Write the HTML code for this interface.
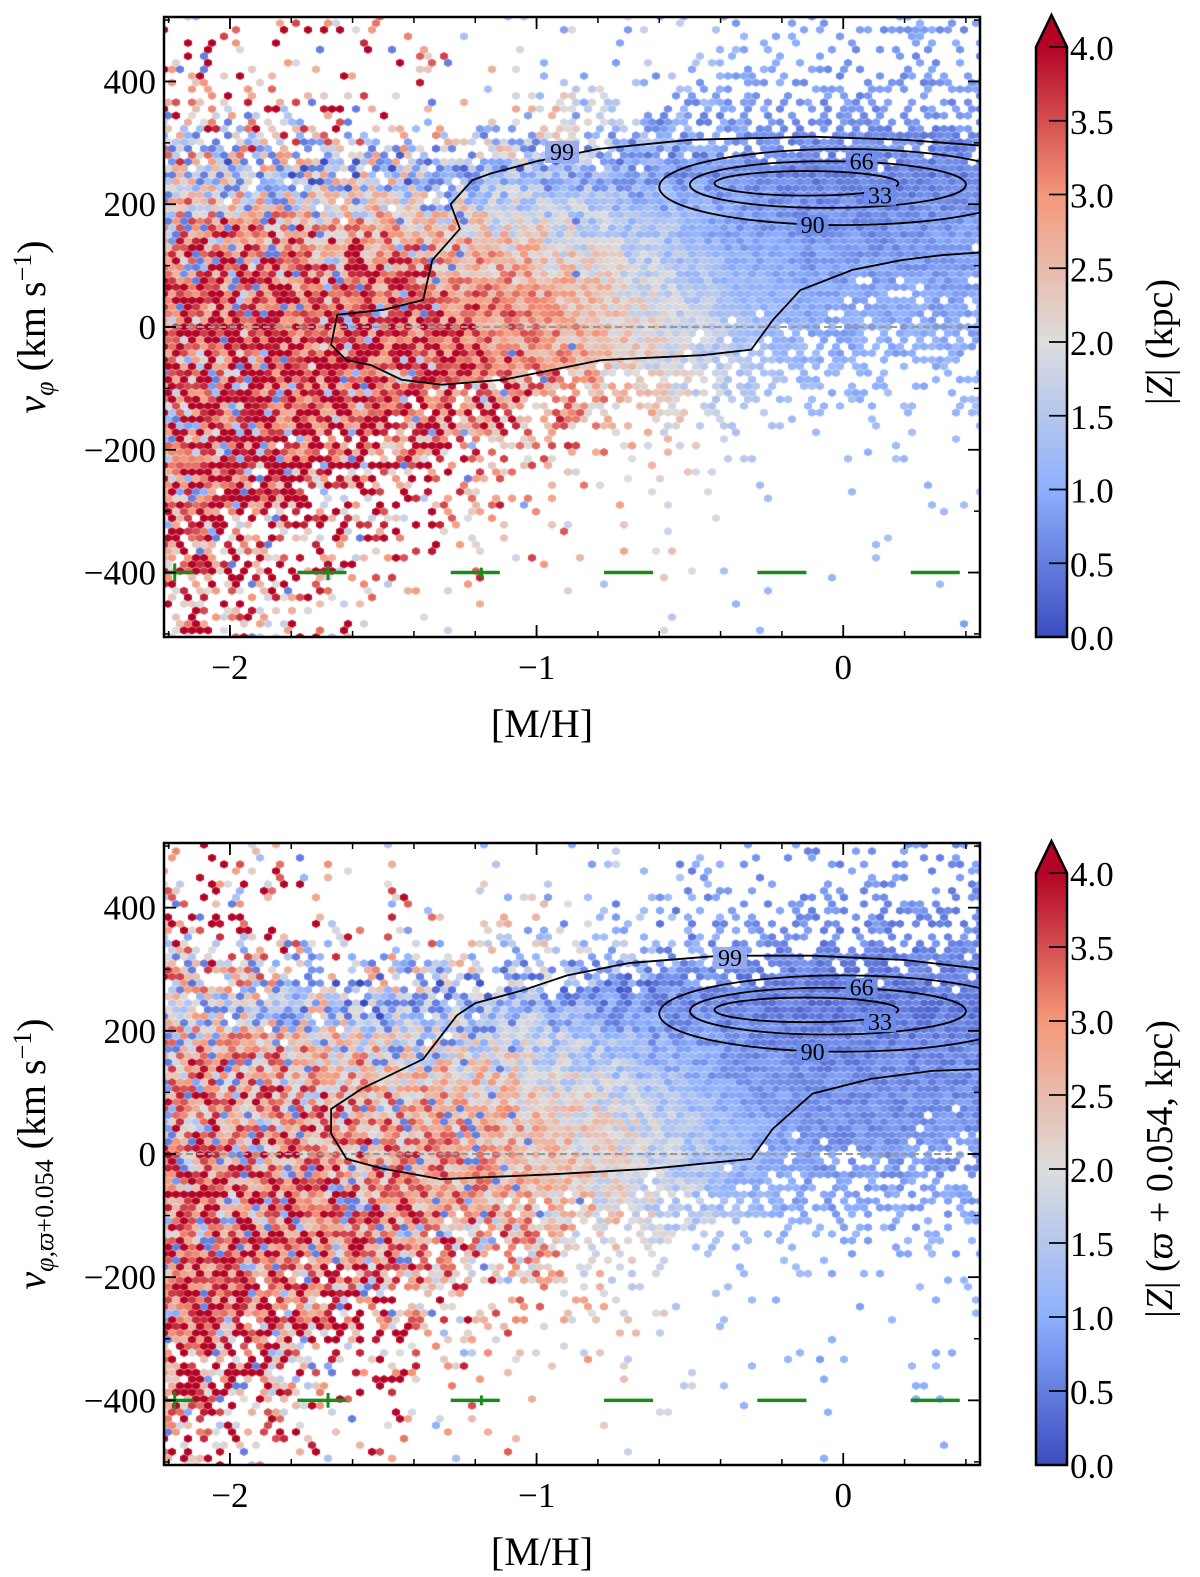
<!DOCTYPE html>
<html><head><meta charset="utf-8">
<style>
body{margin:0;background:#fff;width:1200px;height:1577px;position:relative;overflow:hidden}
canvas,svg{position:absolute;left:0;top:0}
text{font-family:"Liberation Serif",serif;fill:#000}
</style></head><body>
<canvas id="cv" width="1200" height="1577"></canvas>
<svg id="sv" width="1200" height="1577"></svg>
<script>
// ---- data ----
const xBins = [-2.075,-1.825,-1.575,-1.325,-1.075,-0.825,-0.575,-0.325,-0.075,0.175,0.375];
const yBins = [450,350,250,150,50,-50,-150,-250,-350,-450];
const densityTop = [
[.25,.12,.1,.06,.05,.05,.08,.15,.2,.25,.25],
[.45,.3,.2,.15,.2,.3,.45,.55,.55,.55,.5],
[.95,.9,.85,.9,.95,1,1,1,1,1,1],
[1,1,1,1,1,1,1,1,1,1,1],
[1,1,1,1,1,1,1,1,1,.9,.7],
[1,1,1,1,1,1,.9,.8,.6,.5,.4],
[1,1,1,.9,.7,.5,.3,.2,.15,.15,.15],
[1,.9,.7,.4,.25,.15,.06,.05,.05,.05,.05],
[.8,.5,.3,.15,.08,.04,.03,.03,.03,.03,.03],
[.5,.25,.15,.06,.03,.02,.02,.02,.02,.02,.02]];
const zTop = [
[3.3,3.3,3,2.5,2,1.5,1.2,1,.8,.8,.8],
[3.2,3,2.8,2.5,2,1.5,1,.8,.7,.7,.7],
[1.6,1.3,1.2,1.2,1.1,1,.8,.6,.5,.5,.5],
[3.3,3.2,3,2.6,2.2,1.8,1.3,.9,.7,.7,.8],
[3.8,3.6,3.5,3.3,3,2.5,1.8,1.2,.9,.9,.9],
[3.8,3.8,3.8,3.6,3.2,2.6,2,1.4,1,1,1],
[3.8,3.8,3.8,3.5,3.2,2.8,2.2,1.5,1.2,1.2,1.2],
[3.8,3.8,3.5,3.2,3,2.6,2.2,1.5,1.2,1.2,1.2],
[3.8,3.5,3.3,3,2.8,2.5,2,1.5,1.2,1.2,1.2],
[3.6,3.3,3,2.8,2.5,2,1.8,1.3,1,1,1]];
const densityBot = [
[.25,.12,.1,.06,.05,.05,.08,.15,.2,.25,.25],
[.45,.3,.2,.15,.2,.3,.45,.55,.55,.55,.5],
[.95,.9,.85,.9,.95,1,1,1,1,1,1],
[1,1,1,1,1,1,1,1,1,1,1],
[1,1,1,1,1,1,1,1,1,1,.85],
[1,1,1,1,1,1,.95,.85,.7,.6,.5],
[1,1,1,.9,.7,.5,.3,.2,.15,.15,.15],
[1,.9,.7,.4,.25,.15,.06,.05,.05,.05,.05],
[.8,.5,.3,.15,.08,.04,.03,.03,.03,.03,.03],
[.5,.25,.15,.06,.03,.02,.02,.02,.02,.02,.02]];
const zBot = [
[3.3,3.3,2.8,2.3,1.8,1.3,1,.8,.7,.7,.7],
[3.1,2.8,2.5,2.2,1.8,1.3,.9,.7,.6,.6,.6],
[1.5,1.2,1.1,1.1,1,.8,.6,.5,.4,.4,.4],
[3,2.8,2.6,2.3,2,1.6,1.1,.7,.6,.6,.6],
[3.2,3,2.9,2.8,2.6,2.2,1.6,1,.7,.7,.7],
[3.4,3.3,3.1,2.9,2.6,2.2,1.7,1.1,.8,.8,.8],
[3.6,3.5,3.3,3,2.7,2.3,1.8,1.2,1,1,1],
[3.7,3.6,3.3,3,2.7,2.3,1.8,1.3,1,1,1],
[3.7,3.4,3.2,2.9,2.6,2.3,1.8,1.3,1,1,1],
[3.5,3.2,3,2.7,2.4,2,1.6,1.2,.9,.9,.9]];
const c99TopX = [0.46,0.2,-0.1,-0.5,-0.8,-1.0,-1.15,-1.21,-1.28,-1.25,-1.34,-1.37,-1.5,-1.65,-1.67,-1.62,-1.54,-1.44,-1.31,-1.11,-0.79,-0.46,-0.3,-0.23,-0.14,0.03,0.19,0.32,0.46];
const c99TopV = [295,305,310,305,290,270,250,239,200,160,109,44,28,20,-29,-54,-62,-86,-94,-86,-54,-46,-37,11,60,93,109,117,122];
const c99BotX = [0.46,0.2,-0.1,-0.4,-0.7,-0.9,-1.05,-1.2,-1.26,-1.37,-1.57,-1.67,-1.67,-1.62,-1.5,-1.31,-0.95,-0.63,-0.3,-0.23,-0.1,0.09,0.29,0.46];
const c99BotV = [300,315,322,322,310,290,265,245,225,154,106,73,33,-8,-24,-41,-33,-24,-8,41,98,122,135,138];
const ellLevels = ["90","66","33"];
const ellCx = [0.0,-0.05,-0.12];
const ellCv = [228,232,234];
const ellRx = [0.6,0.45,0.3];
const ellRv = [62,38,20];
const errX = [-2.2,-1.7,-1.2,-0.7,-0.2,0.3];
const errXerr = [0.08,0.08,0.08,0.08,0.08,0.08];
const errVerr = [15,12,8,0,0,0];
const xTicks = [-2,-1,0];
const yTicks = [-400,-200,0,200,400];
const cbTicks = [0,0.5,1,1.5,2,2.5,3,3.5,4];

// ---- layout ----
const panels = [
 {L:164,R:980,T:17,B:637,dens:densityTop,z:zTop,cx:c99TopX,cv:c99TopV,cbT:47,lbl99:[562,152]},
 {L:164,R:980,T:843,B:1465,dens:densityBot,z:zBot,cx:c99BotX,cv:c99BotV,cbT:873,lbl99:[730,958]}
];
const XMIN=-2.215, XMAX=0.446, VMIN=-505, VMAX=505;
const cmap=[[0,59,76,192],[.25,141,176,254],[.5,221,221,221],[.75,245,152,122],[1,180,4,38]];
function col(t){t=Math.max(0,Math.min(1,t));for(let i=1;i<cmap.length;i++){if(t<=cmap[i][0]){const a=cmap[i-1],b=cmap[i],f=(t-a[0])/(b[0]-a[0]);return `rgb(${Math.round(a[1]+f*(b[1]-a[1]))},${Math.round(a[2]+f*(b[2]-a[2]))},${Math.round(a[3]+f*(b[3]-a[3]))})`;}}}
function hash(i,j,k){let h=(i*374761393+j*668265263+k*2147483647)|0;h=(h^(h>>>13))*1274126177|0;h=h^(h>>>16);return ((h>>>0)%100000)/100000;}
function interp(grid,x,v){
 let fx=(x-xBins[0])/0.25; if(x>0.3) fx=9+(x-0.175)/0.2;
 fx=Math.max(0,Math.min(xBins.length-1.001,fx));
 let fy=(450-v)/100; fy=Math.max(0,Math.min(yBins.length-1.001,fy));
 const i=Math.floor(fx),j=Math.floor(fy),a=fx-i,b=fy-j;
 return grid[j][i]*(1-a)*(1-b)+grid[j][i+1]*a*(1-b)+grid[j+1][i]*(1-a)*b+grid[j+1][i+1]*a*b;
}
const cv=document.getElementById('cv').getContext('2d');
const NS='http://www.w3.org/2000/svg';
const sv=document.getElementById('sv');
function el(tag,attrs,parent,txt){const e=document.createElementNS(NS,tag);for(const k in attrs)e.setAttribute(k,attrs[k]);if(txt!==undefined)e.textContent=txt;(parent||sv).appendChild(e);return e;}

panels.forEach((p,pi)=>{
 const sx=x=>p.L+(x-XMIN)/(XMAX-XMIN)*(p.R-p.L);
 const sy=v=>p.B-(v-VMIN)/(VMAX-VMIN)*(p.B-p.T);
 cv.save();cv.beginPath();cv.rect(p.L,p.T,p.R-p.L,p.B-p.T);cv.clip();
 const dx=8,dy=6.6,r=4.8;
 let row=0;
 for(let py=p.B;py>p.T-dy;py-=dy,row++){
  const off=(row%2)*dx/2;
  let colI=0;
  for(let px=p.L+off;px<p.R+dx;px+=dx,colI++){
   const x=XMIN+(px-p.L)/(p.R-p.L)*(XMAX-XMIN);
   const v=VMIN+(p.B-py)/(p.B-p.T)*(VMAX-VMIN);
   const d=interp(p.dens,x,v);
   if(d<0.97 && hash(row,colI,pi*7+1)>d) continue;
   let z=interp(p.z,x,v);
   const amp=0.22+1.6*Math.max(0,Math.min(1,(-x-0.3)/1.4))*(d>0.9?0.6:1);
   z+= (hash(row,colI,pi*7+3)-0.5)*amp*2;
   if(hash(row,colI,pi*7+5)<0.12*Math.max(0,(-x-0.8))) z=Math.max(0.5,z-2.5);
   cv.fillStyle=col(z/4);
   cv.beginPath();
   for(let k=0;k<6;k++){const an=Math.PI/6+k*Math.PI/3;const hx=px+r*Math.cos(an)*0.95,hy=py+r*Math.sin(an)*0.85;k?cv.lineTo(hx,hy):cv.moveTo(hx,hy);}
   cv.closePath();cv.fill();
  }
 }
 cv.restore();
 const g=el('g',{},sv);
 
 
 const clip=el('clipPath',{id:'clp'+pi},g);el('rect',{x:p.L,y:p.T,width:p.R-p.L,height:p.B-p.T},clip);
 const cg=el('g',{'clip-path':`url(#clp${pi})`},g);
 const zl=el('line',{x1:p.L,x2:p.R,y1:sy(0),y2:sy(0),stroke:'#999','stroke-width':2,'stroke-dasharray':'7,4'},cg);
 
 let d='';p.cx.forEach((x,i)=>{d+=(i?'L':'M')+sx(x).toFixed(1)+','+sy(p.cv[i]).toFixed(1);});
 const c99=el('path',{d:d,fill:'none',stroke:'#000','stroke-width':1.8},cg);
 
 ellLevels.forEach((lv,i)=>{
  const e=el('ellipse',{cx:sx(ellCx[i]),cy:sy(ellCv[i]),rx:ellRx[i]*(p.R-p.L)/(XMAX-XMIN),ry:ellRv[i]*(p.B-p.T)/(VMAX-VMIN),fill:'none',stroke:'#000','stroke-width':1.8},cg);
  
 });
 const lx=[sx(-0.1),sx(0.06),sx(0.12)],ly=[sy(ellCv[0]-ellRv[0]),sy(ellCv[1]+ellRv[1]),sy(ellCv[2]-ellRv[2])];
 ellLevels.forEach((lv,i)=>{
  el('rect',{x:lx[i]-16,y:ly[i]-10,width:32,height:20,fill:'rgba(110,140,235,0.95)'},cg);
  const t=el('text',{x:lx[i],y:ly[i]+8,'font-size':24,'text-anchor':'middle'},cg,lv);
  
 });
 el('rect',{x:p.lbl99[0]-17,y:p.lbl99[1]-11,width:34,height:22,fill:'rgba(150,170,240,0.95)'},cg);
 const t99=el('text',{x:p.lbl99[0],y:p.lbl99[1]+8,'font-size':24,'text-anchor':'middle'},cg,'99');
 
 errX.forEach((x,i)=>{
  const eg=el('g',{stroke:'#1a8a1a','stroke-width':3.5},cg);
  
  el('line',{x1:sx(x-errXerr[i]),x2:sx(x+errXerr[i]),y1:sy(-400),y2:sy(-400)},eg);
  if(errVerr[i]>0) el('line',{x1:sx(x+0.02),x2:sx(x+0.02),y1:sy(-400-errVerr[i]),y2:sy(-400+errVerr[i]),'stroke-width':3},eg);
 });
 const fr=el('rect',{x:p.L,y:p.T,width:p.R-p.L,height:p.B-p.T,fill:'none',stroke:'#000','stroke-width':2.5},g);
 
 for(let x=-2.2;x<=0.45;x+=0.2){const X=sx(x);el('line',{x1:X,x2:X,y1:p.B,y2:p.B-6,stroke:'#000','stroke-width':1.5},g);el('line',{x1:X,x2:X,y1:p.T,y2:p.T+6,stroke:'#000','stroke-width':1.5},g);}
 xTicks.forEach(x=>{const X=sx(x);el('line',{x1:X,x2:X,y1:p.B,y2:p.B-12,stroke:'#000','stroke-width':1.8},g);el('line',{x1:X,x2:X,y1:p.T,y2:p.T+12,stroke:'#000','stroke-width':1.8},g);
  const t=el('text',{x:X,y:p.B+42,'font-size':35,'text-anchor':'middle'},g,(x<0?'\u2212':'')+Math.abs(x));
  });
 for(let v=-500;v<=500;v+=100){const Y=sy(v);el('line',{x1:p.L,x2:p.L+6,y1:Y,y2:Y,stroke:'#000','stroke-width':1.5},g);el('line',{x1:p.R,x2:p.R-6,y1:Y,y2:Y,stroke:'#000','stroke-width':1.5},g);}
 yTicks.forEach(v=>{const Y=sy(v);el('line',{x1:p.L,x2:p.L+12,y1:Y,y2:Y,stroke:'#000','stroke-width':1.8},g);el('line',{x1:p.R,x2:p.R-12,y1:Y,y2:Y,stroke:'#000','stroke-width':1.8},g);
  const t=el('text',{x:p.L-8,y:Y+12,'font-size':35,'text-anchor':'end'},g,(v<0?'\u2212':'')+Math.abs(v));
  });
 const xl=el('text',{x:(p.L+p.R)/2-30,y:p.B+100,'font-size':40,'text-anchor':'middle'},g,'[M/H]');
 
 const yc=(p.T+p.B)/2;
 const yl=el('text',{transform:`translate(45,${yc}) rotate(-90)`,'font-size':40,'text-anchor':'middle'},g);
 
 if(pi===0){yl.innerHTML='<tspan font-style="italic">v</tspan><tspan font-size="26" font-style="italic" dy="8">φ</tspan><tspan dy="-8"> (km s</tspan><tspan font-size="26" dy="-14">−1</tspan><tspan dy="14">)</tspan>';}
 else{yl.innerHTML='<tspan font-style="italic">v</tspan><tspan font-size="26" dy="8"><tspan font-style="italic">φ,ϖ</tspan>+0.054</tspan><tspan dy="-8"> (km s</tspan><tspan font-size="26" dy="-14">−1</tspan><tspan dy="14">)</tspan>';}
 const cbL=1036,cbR=1067,cbT=p.cbT,cbB=p.B;
 const cg2=el('g',{},g);
 const gid='grad'+pi;const lg=el('linearGradient',{id:gid,x1:0,y1:1,x2:0,y2:0},cg2);
 cmap.forEach(c=>el('stop',{offset:c[0],'stop-color':`rgb(${c[1]},${c[2]},${c[3]})`},lg));
 el('rect',{x:cbL,y:cbT,width:cbR-cbL,height:cbB-cbT,fill:`url(#${gid})`},cg2);
 el('path',{d:`M${cbL},${cbT}L${(cbL+cbR)/2},${cbT-32}L${cbR},${cbT}Z`,fill:col(1)},cg2);
 el('path',{d:`M${cbL},${cbB}L${cbL},${cbT}L${(cbL+cbR)/2},${cbT-32}L${cbR},${cbT}L${cbR},${cbB}Z`,fill:'none',stroke:'#000','stroke-width':2.5},cg2);
 cbTicks.forEach(v=>{const Y=cbB-v/4*(cbB-cbT);el('line',{x1:cbR-18,x2:cbR,y1:Y,y2:Y,stroke:'#000','stroke-width':1.8},cg2);
  const t=el('text',{x:cbR+3,y:Y+13,'font-size':35},cg2,v.toFixed(1));
  });
 const cl=el('text',{transform:`translate(1172,${(cbT+cbB)/2}) rotate(-90)`,'font-size':38,'text-anchor':'middle'},cg2);
 
 cl.innerHTML= pi===0 ? '|<tspan font-style="italic">Z</tspan>| (kpc)' : '|<tspan font-style="italic">Z</tspan>| (<tspan font-style="italic">ϖ</tspan> + 0.054, kpc)';
});
</script>
</body></html>
